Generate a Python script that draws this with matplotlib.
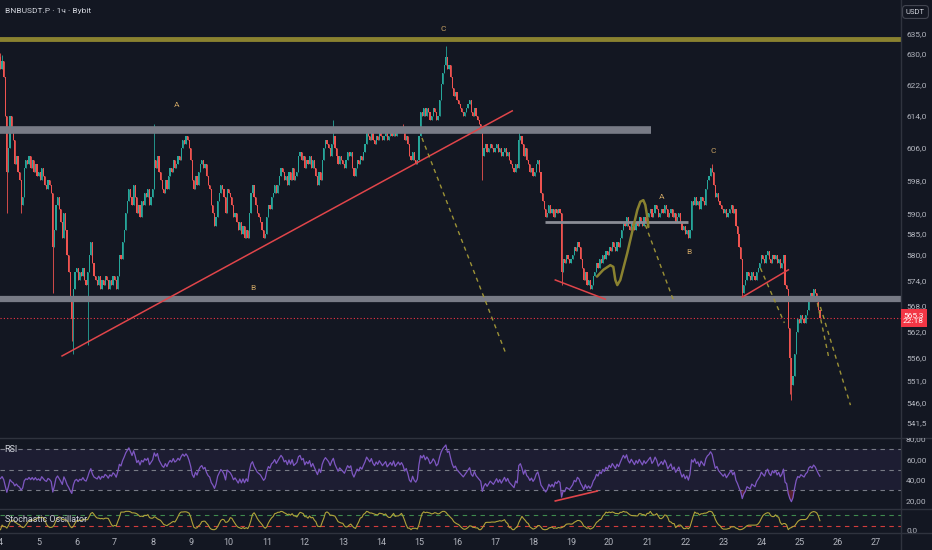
import numpy as np
import pandas as pd
import matplotlib
matplotlib.use("Agg")
import matplotlib.pyplot as plt
from matplotlib.lines import Line2D
from matplotlib.ticker import FixedLocator, NullLocator, FuncFormatter
from matplotlib.transforms import Bbox, TransformedBbox

plt.rcParams['font.family'] = ['Roboto', 'DejaVu Sans']

# Cierres horarios (BNBUSDT.P, 1h), dia 4 -> dia 25
closes_by_day = [
    [626, 628, 624, 614, 600, 606, 614, 610, 608, 602, 604, 600, 598, 592, 594, 601, 603, 602, 604, 601, 603, 600, 602, 599],
    [600, 598, 601, 599, 597, 596, 598, 597, 595, 582, 586, 592, 594, 591, 588, 584, 590, 586, 580, 576, 570, 565, 572, 576],
    [577, 574, 576, 575, 577, 574, 573, 576, 580, 583, 578, 575, 574, 573, 575, 572, 574, 573, 575, 574, 572, 574, 573, 575],
    [574, 572, 575, 580, 579, 583, 586, 590, 593, 596, 594, 592, 597, 594, 590, 592, 589, 593, 592, 595, 594, 596, 592, 594],
    [596, 603, 601, 604, 600, 598, 596, 595, 598, 596, 599, 601, 600, 603, 601, 602, 604, 603, 606, 608, 607, 609, 608, 606],
    [603, 598, 596, 599, 597, 600, 602, 603, 601, 602, 599, 597, 596, 592, 590, 587, 589, 593, 595, 597, 596, 594, 590, 596],
    [595, 594, 592, 589, 590, 588, 586, 588, 585, 587, 584, 586, 584, 590, 595, 597, 594, 592, 590, 589, 588, 586, 584, 585],
    [589, 592, 591, 594, 595, 597, 595, 597, 599, 601, 600, 598, 599, 597, 600, 598, 601, 598, 599, 600, 604, 605, 603, 604],
    [601, 603, 602, 604, 601, 603, 601, 599, 597, 600, 598, 603, 606, 608, 607, 606, 604, 607, 609, 606, 604, 602, 604, 603],
    [602, 601, 603, 605, 604, 605, 601, 599, 601, 603, 602, 604, 603, 605, 607, 610, 609, 608, 610, 608, 607, 609, 608, 610],
    [609, 608, 609, 610, 608, 609, 610, 609, 611, 609, 610, 611, 610, 611, 610, 608, 609, 607, 604, 603, 605, 603, 602, 603],
    [609, 615, 614, 616, 614, 616, 615, 613, 614, 616, 615, 613, 614, 618, 622, 625, 627, 629, 626, 627, 624, 621, 619, 620],
    [618, 617, 616, 615, 614, 615, 616, 617, 618, 615, 614, 616, 614, 613, 612, 611, 604, 606, 607, 605, 606, 607, 606, 605],
    [606, 607, 605, 606, 604, 605, 606, 604, 605, 603, 602, 601, 600, 602, 601, 608, 609, 607, 604, 606, 603, 602, 600, 601],
    [599, 600, 602, 603, 600, 595, 593, 591, 589, 590, 592, 590, 591, 589, 591, 590, 591, 590, 576, 579, 578, 580, 579, 578],
    [579, 580, 582, 581, 583, 582, 579, 577, 574, 576, 573, 574, 572, 573, 575, 576, 578, 577, 579, 578, 580, 579, 581, 580],
    [582, 581, 583, 582, 581, 583, 582, 584, 586, 588, 587, 589, 587, 586, 588, 587, 586, 588, 587, 589, 588, 587, 589, 588],
    [589, 590, 591, 589, 590, 592, 591, 589, 590, 591, 590, 592, 591, 589, 590, 591, 589, 590, 588, 589, 590, 588, 586, 587],
    [585, 586, 584, 586, 593, 592, 594, 592, 593, 591, 594, 593, 592, 596, 598, 599, 601, 600, 597, 594, 595, 593, 592, 591],
    [590, 591, 589, 590, 591, 592, 590, 591, 587, 585, 582, 579, 571, 573, 574, 576, 575, 574, 576, 575, 574, 576, 577, 578],
    [580, 579, 578, 580, 581, 579, 578, 580, 579, 580, 578, 579, 577, 578, 580, 573, 572, 563, 556, 550, 552, 557, 562, 565],
    [564, 566, 565, 564, 566, 567, 570, 571, 570, 572, 571, 569, 567, 565.3],
]
first_open = 629
# mechas visibles (indice de vela -> precio)
spike_highs = {0: 630, 1: 629.5, 97: 612, 210: 613, 254: 612, 281: 632, 327: 611, 449: 602}
spike_lows = {4: 590, 13: 590, 33: 571, 45: 560, 46: 557, 55: 559, 304: 598, 354: 573, 468: 569.5, 498: 548, 499: 546.5}
# estado previo del RSI (ganancia / perdida media antes del dia 4)
rsi_seed_gain, rsi_seed_loss = 2.0, 2.6

price_ticks = [635, 630, 622, 614, 606, 598, 590, 585, 580, 574, 568, 562, 556, 551, 546, 541.5]
day_ticks = list(range(4, 28))
last_price = 565.3
last_time = "22:18"

# Dibujos (dia, precio)
top_line = 633.7
upper_band = (3.98, 21.11, 610.5)
lower_band = 569.6
mid_line = (18.32, 22.08, 587.9)
trend_up = ([5.618, 17.453], [556.5, 615.3])
red_seg1 = ([18.585, 19.900], [574.1, 569.6])
red_seg2 = ([23.503, 24.713], [570.1, 576.5])
projections = [
    ([15.08, 17.269], [608.5, 557.4]),
    ([20.952, 21.689], [587.2, 569.4]),
    ([23.976, 24.607], [576.9, 564.1]),
    ([25.475, 25.765], [568.7, 556.5]),
    ([25.554, 26.344], [567.8, 545.4]),
]
brush_days = [19.681, 19.847, 20.031, 20.110, 20.163, 20.215, 20.294, 20.478, 20.636, 20.741, 20.820, 20.899, 20.952, 21.004, 21.031]
brush_prices = [574.9, 576.5, 577.6, 577.2, 574.1, 572.9, 574.1, 580.5, 586.7, 590.8, 592.8, 593.2, 592.0, 589.1, 586.7]
wave_labels = [("C", 15.638, 636.3), ("A", 8.616, 616.8), ("B", 10.641, 572.2),
               ("A", 21.372, 594.0), ("B", 22.109, 580.7), ("C", 22.740, 605.3)]
rsi_div = ([18.585, 19.689], [19.4, 29.2])

# Colores
bg = "#131722"
up_c = "#26a69a"
dn_c = "#ef5350"
txt = "#b2b5be"
sep = "#2f333e"
olive = "#8a8230"
wave_c = "#c9a263"

# Datos OHLC
c = np.array([v for day in closes_by_day for v in day], dtype=float)
n = len(c)
t = 4 + np.arange(n) / 24
o = np.r_[first_open, c[:-1]]
hi = np.maximum(o, c)
lo = np.minimum(o, c)
for k, v in spike_highs.items():
    hi[k] = max(hi[k], v)
for k, v in spike_lows.items():
    lo[k] = min(lo[k], v)

# RSI 14 (Wilder)
d = c - o
ag, al = rsi_seed_gain, rsi_seed_loss
rsi = np.zeros(n)
for i in range(n):
    ag = (ag * 13 + max(d[i], 0)) / 14
    al = (al * 13 + max(-d[i], 0)) / 14
    rsi[i] = 100 - 100 / (1 + ag / al)

# Estocastico 14,3
s = pd.Series(c)
hh = pd.Series(hi).rolling(14, min_periods=1).max()
ll = pd.Series(lo).rolling(14, min_periods=1).min()
k_raw = 100 * (s - ll) / (hh - ll)
stoch_k = k_raw.rolling(3, min_periods=1).mean().values

W, H = 932, 550
fig = plt.figure(figsize=(W/100, H/100), dpi=100, facecolor=bg)
xr = 900.5 / W
ax = fig.add_axes([0, 1 - 438/H, xr, 438/H], facecolor=bg)
ax_r = fig.add_axes([0, 1 - 509.3/H, xr, 71.3/H], facecolor=bg, sharex=ax)
ax_s = fig.add_axes([0, 1 - 532.7/H, xr, 23.4/H], facecolor=bg, sharex=ax)

for a in (ax, ax_r, ax_s):
    for sp in a.spines.values():
        sp.set_visible(False)
    a.yaxis.tick_right()
    a.tick_params(axis="y", length=0, pad=4, labelcolor=txt, labelsize=6)
    a.tick_params(axis="x", length=0)

# Velas
col = np.where(c >= o, up_c, dn_c)
ax.vlines(t, lo, hi, colors=col, lw=0.6)
ax.bar(t, np.abs(c - o), bottom=np.minimum(o, c), width=0.75/24, color=col, linewidth=0)

ax.set_yscale("log")
ax.set_ylim(538.1, 643.9)
ax.set_xlim(3.987, 27.66)
ax.yaxis.set_major_locator(FixedLocator(price_ticks))
ax.yaxis.set_minor_locator(NullLocator())
ax.yaxis.set_major_formatter(FuncFormatter(lambda v, p: f"{v:.1f}".replace(".", ",")))
ax.tick_params(axis="x", labelbottom=False)

# Niveles y lineas
ax.axhline(top_line, color=olive, lw=3.5)
ax.hlines(upper_band[2], upper_band[0], upper_band[1], color="#787b86", lw=5.5)
ax.axhline(lower_band, color="#787b86", lw=4.5)
ax.hlines(mid_line[2], mid_line[0], mid_line[1], color="#8a8d96", lw=2)
ax.axhline(last_price, color="#f23645", lw=0.8, ls=(0, (1, 2)))
for xs, ys in (trend_up, red_seg1, red_seg2):
    ax.plot(xs, ys, color="#e0454a", lw=1.1)
for xs, ys in projections:
    ax.plot(xs, ys, color="#9c9236", lw=1, ls=(0, (3, 3)))
ax.plot(brush_days, brush_prices, color=olive, lw=1.8, solid_capstyle="round")
for lab, x, y in wave_labels:
    ax.text(x, y, lab, color=wave_c, fontsize=6, ha="center", va="center")

# RSI
ax_r.set_ylim(11.2, 81.3)
ax_r.fill_between([3.9, 27.7], 30, 70, color="#7e57c2", alpha=0.1, lw=0)
for lv in (70, 50, 30):
    ax_r.axhline(lv, color="#787b86", lw=0.8, ls=(0, (4, 4)))
ax_r.fill_between(t, rsi, 30, where=rsi < 30, color="#f23645", alpha=0.3, lw=0, interpolate=True)
ax_r.plot(t, rsi, color="#7e57c2", lw=0.9)
ax_r.plot(rsi_div[0], rsi_div[1], color="#e0454a", lw=1.2)
ax_r.yaxis.set_major_locator(FixedLocator([60, 40, 20]))
ax_r.yaxis.set_major_formatter(FuncFormatter(lambda v, p: f"{v:.2f}".replace(".", ",")))
ax_r.tick_params(axis="x", labelbottom=False)
ax_r.text(0.005, 0.84, "RSI", transform=ax_r.transAxes, color="#d1d4dc", fontsize=6.5, va="center")

# Estocastico
ax_s.set_ylim(-16.6, 111.1)
ax_s.axhline(80, color="#3f8a4e", lw=0.8, ls=(0, (4, 4)))
ax_s.axhline(20, color="#d23c3c", lw=0.8, ls=(0, (4, 4)))
ax_s.plot(t, stoch_k, color="#b0a33a", lw=0.8)
ax_s.yaxis.set_major_locator(FixedLocator([0]))
ax_s.yaxis.set_major_formatter(FuncFormatter(lambda v, p: "0,0"))
ax_s.xaxis.set_major_locator(FixedLocator(day_ticks))
ax_s.xaxis.set_major_formatter(FuncFormatter(lambda v, p: f"{int(round(v))}"))
ax_s.tick_params(axis="x", labelcolor=txt, labelsize=6.5, pad=3.5)
ax_s.text(0.005, 0.55, "Stochastic Oscillator", transform=ax_s.transAxes, color="#d1d4dc", fontsize=6.5, va="center")

# separadores
for yy in (438, 509.3, 532.7):
    fig.add_artist(Line2D([0, 1], [1 - yy/H] * 2, transform=fig.transFigure, color=sep, lw=1))
fig.add_artist(Line2D([xr, xr], [0, 1], transform=fig.transFigure, color=sep, lw=1))

# textos de cabecera y etiquetas del eje
fig.text(5/W, 1 - 11/H, "BNBUSDT.P · 1ч · Bybit", color="#d1d4dc", fontsize=6, va="center")
fig.text(915.5/W, 1 - 12/H, "USDT", color="#d1d4dc", fontsize=5.5, ha="center", va="center",
         bbox=dict(boxstyle="round,pad=0.45", fc=bg, ec="#434651", lw=0.8))
fig.text(903/W, 1 - 318/H, f"{last_price:.1f}".replace(".", ",") + "\n" + last_time, color="white",
         fontsize=6, ha="left", va="center", linespacing=1.1,
         bbox=dict(boxstyle="square,pad=0.3", fc="#f23645", ec="none"))
clip = TransformedBbox(Bbox([[xr, 1 - 509.3/H], [1, 1 - 438/H]]), fig.transFigure)
t80 = fig.text(906/W, 1 - 439.3/H, "80,00", color=txt, fontsize=6, va="center")
t80.set_clip_box(clip)
t80.set_clip_on(True)

fig.savefig("out.png", dpi=100, facecolor=bg)
